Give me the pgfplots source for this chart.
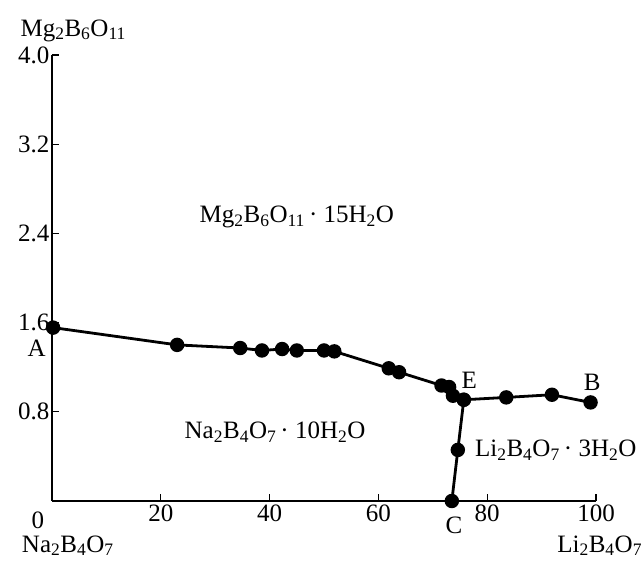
\documentclass[border=0pt]{standalone}
\usepackage{pgfplots}
\pgfplotsset{compat=1.18}
\usepackage{fontspec}
\setmainfont{Liberation Serif}
\newcommand{\sub}[1]{\textsubscript{#1}}
\begin{document}
\begin{tikzpicture}[font=\fontsize{25}{29}\selectfont]
\path (-52pt,-60pt) rectangle (592pt,501pt);
\begin{axis}[
  at={(0pt,0pt)}, anchor=south west,
  scale only axis, width=544pt, height=446pt,
  xmin=0, xmax=100, ymin=0, ymax=4.0,
  axis x line*=bottom, axis y line*=left,
  axis line style={line width=1.2pt},
  xtick={20,40,60,80,100},
  ytick={0.8,1.6,2.4,3.2,4.0},
  yticklabels={0.8,1.6,2.4,3.2,4.0},
  tick align=inside, major tick length=7pt,
  tick style={line width=1.1pt, black},
  /pgf/number format/assume math mode=true,
  ticklabel style={font=\fontsize{25}{29}\selectfont},
  yticklabel style={xshift=1pt},
  clip=false,
]
\addplot[black, line width=2.8pt, mark=*, mark size=5.8pt, mark options={solid}] coordinates {
(0.2,1.555) (23.0,1.40) (34.6,1.372) (38.6,1.35) (42.3,1.363) (45.0,1.35) (50.0,1.35) (51.9,1.342)
(61.9,1.19) (63.8,1.155) (71.6,1.036) (73.0,1.022) (73.7,0.944) (75.7,0.908)
(83.5,0.929) (91.9,0.953) (99.0,0.884)
};
\addplot[black, line width=2.8pt, mark=*, mark size=5.8pt] coordinates {
(75.7,0.908) (74.6,0.458) (73.5,0.0)
};
\node at (axis cs:45.0,2.547) {Mg\sub{2}B\sub{6}O\sub{11}\,·~15H\sub{2}O};
\node at (axis cs:41.0,0.619) {Na\sub{2}B\sub{4}O\sub{7}\,·~10H\sub{2}O};
\node at (axis cs:92.6,0.457) {Li\sub{2}B\sub{4}O\sub{7}\,·~3H\sub{2}O};
\node at (axis cs:-2.8,1.37) {A};
\node at (axis cs:76.7,1.085) {E};
\node at (axis cs:99.3,1.067) {B};
\node at (axis cs:73.9,-0.215) {C};
\node at (axis cs:-2.6,-0.17) {0};
\node at (axis cs:2.9,-0.40) {Na\sub{2}B\sub{4}O\sub{7}};
\node[anchor=east, inner sep=0pt] at (axis cs:108.5,-0.40) {Li\sub{2}B\sub{4}O\sub{7}};
\node at (axis cs:3.9,4.22) {Mg\sub{2}B\sub{6}O\sub{11}};
\end{axis}
\end{tikzpicture}
\end{document}
